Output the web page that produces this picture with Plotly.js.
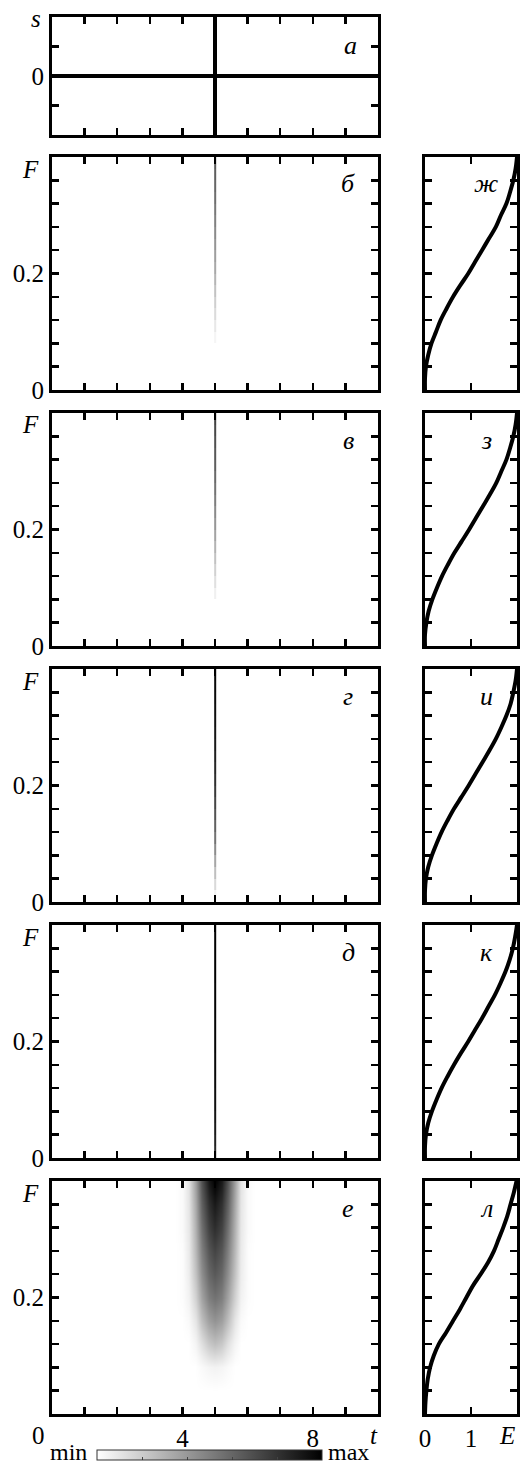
<!DOCTYPE html>
<html><head><meta charset="utf-8">
<script src="https://cdn.plot.ly/plotly-3.0.1.min.js"></script>
<style>html,body{margin:0;padding:0;background:#fff}#plot{width:520px;height:1468px}</style>
</head><body><div id="plot"></div>
<script>
// ---------- data ----------
// panel a: signal s(t)
const s_t = [0, 5, 5, 5, 5, 10];
const s_v = [0, 0, 1, -1, 0, 0];

// panels б–д: narrow spectrogram line at t = 5 (edges in t, edges in F)
const line_t_edges = [4.975, 5.025];
const line_F_edges = [0,0.02,0.04,0.06,0.08,0.10,0.12,0.14,0.16,0.18,0.20,0.22,0.24,0.26,0.28,0.30,0.32,0.34,0.36,0.38,0.40];
const line_b = [0,0,0,0,0.04,0.09,0.14,0.19,0.24,0.29,0.34,0.38,0.42,0.46,0.50,0.53,0.57,0.60,0.63,0.66];
const line_v = [0,0,0,0,0.06,0.12,0.18,0.24,0.30,0.36,0.41,0.46,0.51,0.55,0.59,0.63,0.66,0.69,0.72,0.75];
const line_g = [0.05,0.15,0.25,0.35,0.45,0.55,0.62,0.68,0.73,0.78,0.82,0.85,0.88,0.90,0.92,0.94,0.95,0.96,0.97,0.98];
const line_d = [0.85,0.88,0.9,0.92,0.94,0.95,0.96,0.97,0.97,0.98,0.98,0.98,0.99,0.99,0.99,1,1,1,1,1];

// panel е: broad spectrogram (cell centres)
const blob_t = [3.8,4.0,4.2,4.4,4.6,4.8,5.0,5.2,5.4,5.6,5.8,6.0,6.2];
const blob_F = [0.04,0.08,0.12,0.16,0.20,0.24,0.28,0.32,0.36,0.40];
const blob_z = [
  [0,0,0,0,0,0,0,0,0,0,0,0,0],
  [0,0,0,0,0.02,0.04,0.05,0.04,0.02,0,0,0,0],
  [0,0,0,0.04,0.12,0.21,0.25,0.21,0.12,0.04,0,0,0],
  [0,0,0.02,0.10,0.25,0.37,0.42,0.37,0.25,0.10,0.02,0,0],
  [0,0.01,0.05,0.18,0.36,0.50,0.55,0.50,0.36,0.18,0.05,0.01,0],
  [0,0.01,0.07,0.24,0.44,0.59,0.65,0.59,0.44,0.24,0.07,0.01,0],
  [0,0.01,0.08,0.28,0.50,0.66,0.73,0.66,0.50,0.28,0.08,0.01,0],
  [0,0.02,0.09,0.31,0.56,0.74,0.82,0.74,0.56,0.31,0.09,0.02,0],
  [0,0.02,0.10,0.34,0.62,0.81,0.90,0.81,0.62,0.34,0.10,0.02,0],
  [0,0.02,0.11,0.38,0.68,0.90,1.00,0.90,0.68,0.38,0.11,0.02,0]
];

// panels ж–л: E(F)
const curve_F = [0,0.02,0.04,0.06,0.08,0.10,0.12,0.14,0.16,0.18,0.20,0.22,0.24,0.26,0.28,0.30,0.32,0.34,0.36,0.38,0.40];
const E_zh = [0,0.00,0.02,0.07,0.14,0.24,0.34,0.47,0.61,0.77,0.94,1.09,1.24,1.39,1.54,1.65,1.77,1.85,1.92,1.97,2.00];
const E_z  = [0,0.00,0.03,0.08,0.16,0.26,0.37,0.50,0.64,0.80,0.96,1.11,1.26,1.41,1.55,1.66,1.77,1.85,1.92,1.97,2.00];
const E_i  = [0,0.00,0.02,0.07,0.15,0.25,0.36,0.49,0.63,0.79,0.95,1.10,1.25,1.40,1.54,1.66,1.77,1.86,1.92,1.97,2.00];
const E_k  = [0,0.00,0.02,0.07,0.15,0.25,0.36,0.49,0.63,0.78,0.94,1.09,1.24,1.38,1.52,1.64,1.75,1.84,1.91,1.96,2.00];
const E_l  = [0,0.01,0.03,0.06,0.11,0.19,0.30,0.46,0.61,0.76,0.90,1.04,1.21,1.37,1.50,1.60,1.70,1.79,1.86,1.93,1.99];

const leftLetters = ['а','б','в','г','д','е'];
const rightLetters = ['ж','з','и','к','л'];

// ---------- layout helpers ----------
const W = 520, H = 1468;
const fx = p => p / W;
const fy = p => 1 - p / H;
const FONT = "'Liberation Serif', 'Times New Roman', 'DejaVu Serif', serif";

const gray = [[0,'#ffffff'],[1,'#000000']];
const leftX = [fx(52), fx(378)];
const rightX = [fx(425), fx(517)];
const tops = [157, 413, 669, 925, 1181];
const PH = 233;

const Fticks = []; for (let i = 0; i <= 10; i++) Fticks.push(Number((i*0.04).toFixed(2)));
const tticks = []; for (let i = 0; i <= 10; i++) tticks.push(i);

function baseAxis(extra){
  return Object.assign({
    showline:true, linewidth:3, linecolor:'#000', mirror:'allticks',
    ticks:'inside', ticklen:7, tickwidth:2.5, tickcolor:'#000',
    showgrid:false, zeroline:false, fixedrange:true,
    tickfont:{family:FONT, size:25, color:'#000'}
  }, extra);
}

const data = [];
const layout = {
  width:W, height:H, margin:{l:0,r:0,t:0,b:0},
  paper_bgcolor:'#fff', plot_bgcolor:'#fff', showlegend:false,
  font:{family:FONT, color:'#000'},
  annotations:[]
};

// panel a
data.push({type:'scatter', x:s_t, y:s_v, mode:'lines', line:{color:'#000', width:4}, xaxis:'x', yaxis:'y', hoverinfo:'skip'});
layout.xaxis = baseAxis({domain:leftX, range:[0,10], tickvals:tticks, showticklabels:false, anchor:'y'});
layout.yaxis = baseAxis({domain:[fy(135), fy(17)], range:[-1,1], tickvals:[-0.5,0,0.5,1], ticktext:['','0','',''], anchor:'x'});

// panels б–е
const lines = [line_b, line_v, line_g, line_d];
for (let k = 0; k < 5; k++) {
  const n = k + 2;
  const xa = 'x' + n, ya = 'y' + n;
  const top = tops[k];
  if (k < 4) {
    data.push({type:'heatmap', x:line_t_edges, y:line_F_edges, z:lines[k].map(v => [v]),
      zmin:0, zmax:1, colorscale:gray, showscale:false, zsmooth:false, xaxis:xa, yaxis:ya, hoverinfo:'skip'});
  } else {
    data.push({type:'heatmap', x:blob_t, y:blob_F, z:blob_z, zmin:0, zmax:1, colorscale:gray,
      zsmooth:'best', xaxis:xa, yaxis:ya, hoverinfo:'skip', showscale:true,
      colorbar:{orientation:'h', x:fx(209.5), xanchor:'center', y:fy(1457), yanchor:'middle',
        len:225, lenmode:'pixels', thickness:10, thicknessmode:'pixels', xpad:0, ypad:0,
        outlinewidth:1, outlinecolor:'#333', ticks:'inside', ticklen:3, tickcolor:'#444',
        tickvals:[0.2,0.4,0.6,0.8], showticklabels:false}});
  }
  layout['xaxis' + n] = baseAxis({domain:leftX, range:[0,10], tickvals:tticks,
    ticktext: tticks.map(v => (k === 4 && (v === 4 || v === 8)) ? String(v) : ''),
    showticklabels: k === 4, anchor:ya});
  layout['yaxis' + n] = baseAxis({domain:[fy(top + PH), fy(top)], range:[0,0.4], tickvals:Fticks,
    ticktext: Fticks.map(v => v === 0 ? (k === 4 ? '' : '0') : (v === 0.2 ? '0.2' : '')),
    anchor:xa});
}

// panels ж–л
const curves = [E_zh, E_z, E_i, E_k, E_l];
for (let k = 0; k < 5; k++) {
  const n = k + 7;
  const xa = 'x' + n, ya = 'y' + n;
  const top = tops[k];
  data.push({type:'scatter', x:curves[k], y:curve_F, mode:'lines', line:{color:'#000', width:4, shape:'spline'},
    xaxis:xa, yaxis:ya, hoverinfo:'skip'});
  layout['xaxis' + n] = baseAxis({domain:rightX, range:[0,2], tickvals:[0,1,2], ticktext:['0','1',''],
    showticklabels: k === 4, anchor:ya});
  layout['yaxis' + n] = baseAxis({domain:[fy(top + PH), fy(top)], range:[0,0.4], tickvals:Fticks,
    showticklabels:false, anchor:xa});
}

// annotations (letters and extra labels)
function ann(text, x, y, size, extra){
  layout.annotations.push(Object.assign({xref:'paper', yref:'paper', x:fx(x), y:fy(y), text:text,
    showarrow:false, xanchor:'center', yanchor:'middle', font:{family:FONT, size:size, color:'#000'}}, extra||{}));
}
ann('<i>' + leftLetters[0] + '</i>', 350, 46, 26);
ann('<i>s</i>', 36, 18, 25);
for (let k = 0; k < 5; k++) {
  ann('<i>' + leftLetters[k + 1] + '</i>', 348, tops[k] + 27, 26);
  ann('<i>' + rightLetters[k] + '</i>', 486, tops[k] + 27, 26);
  ann('<i>F</i>', 30, tops[k] + 12, 25);
}
ann('0', 38, 1435, 25);
ann('<i>t</i>', 374, 1435, 25);
ann('<i>E</i>', 507, 1435, 25);
ann('min', 68, 1467, 24, {yanchor:'bottom'});
ann('max', 348, 1467, 24, {yanchor:'bottom'});

Plotly.newPlot('plot', data, layout, {staticPlot:true, displayModeBar:false});
</script>
</body></html>
